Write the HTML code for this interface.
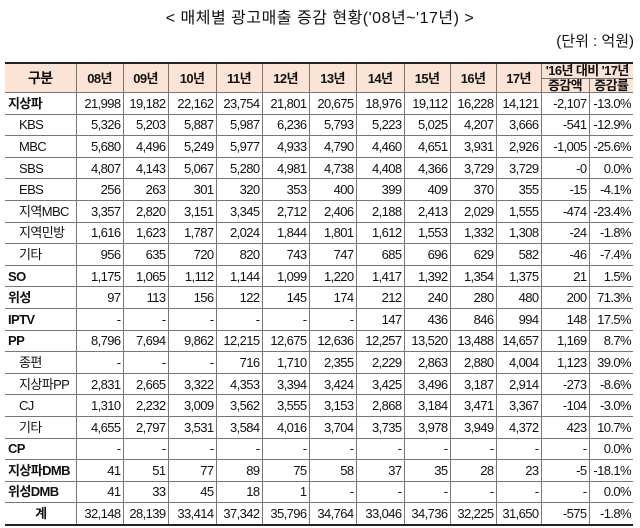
<!DOCTYPE html>
<html><head><meta charset="utf-8"><style>
body{margin:0;background:#fff;width:640px;height:528px;overflow:hidden;font-family:"Liberation Sans","Noto Sans CJK KR",sans-serif;color:#111}
.t{position:absolute;top:4px;left:0;width:640px;text-align:center;font-size:16px;letter-spacing:0.5px}
.u{position:absolute;top:30px;right:6px;font-size:15px}
table{position:absolute;left:5px;top:62px;border-collapse:collapse;table-layout:fixed;font-size:13px;letter-spacing:-0.6px}
td,th{border:1px solid #777;padding:0 2px 0 0;height:20.6px;line-height:15px;text-align:right;white-space:nowrap;overflow:hidden}
table{border-top:2px solid #222;border-bottom:2px solid #222}
th{background:#fbe4d5;text-align:center;font-weight:bold;padding:0;height:13.5px;line-height:13px;font-size:13px}
td:first-child{text-align:left;padding-left:3px;border-left:none}
th:first-child{border-left:none}
td:last-child,th.l{border-right:none}
tr.b td:first-child{font-weight:bold;padding-left:3px}
tr.s td:first-child{padding-left:14px}
tr.c td:first-child{text-align:center;font-weight:bold}
</style></head><body>
<div class="t">&lt; 매체별 광고매출 증감 현황('08년~'17년) &gt;</div>
<div class="u">(단위 : 억원)</div>
<table>
<colgroup><col style="width:71px"><col style="width:47px"><col style="width:45px"><col style="width:48px"><col style="width:46px"><col style="width:47px"><col style="width:47px"><col style="width:48px"><col style="width:46px"><col style="width:46px"><col style="width:45px"><col style="width:48px"><col style="width:44px"></colgroup>
<tr><th rowspan="2" style="font-size:14px">구분</th><th rowspan="2">08년</th><th rowspan="2">09년</th><th rowspan="2">10년</th><th rowspan="2">11년</th><th rowspan="2">12년</th><th rowspan="2">13년</th><th rowspan="2">14년</th><th rowspan="2">15년</th><th rowspan="2">16년</th><th rowspan="2">17년</th><th colspan="2" class="l">'16년 대비 '17년</th></tr>
<tr><th>증감액</th><th class="l">증감률</th></tr>
<tr class="b"><td>지상파</td><td>21,998</td><td>19,182</td><td>22,162</td><td>23,754</td><td>21,801</td><td>20,675</td><td>18,976</td><td>19,112</td><td>16,228</td><td>14,121</td><td>-2,107</td><td>-13.0%</td></tr>
<tr class="s"><td>KBS</td><td>5,326</td><td>5,203</td><td>5,887</td><td>5,987</td><td>6,236</td><td>5,793</td><td>5,223</td><td>5,025</td><td>4,207</td><td>3,666</td><td>-541</td><td>-12.9%</td></tr>
<tr class="s"><td>MBC</td><td>5,680</td><td>4,496</td><td>5,249</td><td>5,977</td><td>4,933</td><td>4,790</td><td>4,460</td><td>4,651</td><td>3,931</td><td>2,926</td><td>-1,005</td><td>-25.6%</td></tr>
<tr class="s"><td>SBS</td><td>4,807</td><td>4,143</td><td>5,067</td><td>5,280</td><td>4,981</td><td>4,738</td><td>4,408</td><td>4,366</td><td>3,729</td><td>3,729</td><td>-0</td><td>0.0%</td></tr>
<tr class="s"><td>EBS</td><td>256</td><td>263</td><td>301</td><td>320</td><td>353</td><td>400</td><td>399</td><td>409</td><td>370</td><td>355</td><td>-15</td><td>-4.1%</td></tr>
<tr class="s"><td>지역MBC</td><td>3,357</td><td>2,820</td><td>3,151</td><td>3,345</td><td>2,712</td><td>2,406</td><td>2,188</td><td>2,413</td><td>2,029</td><td>1,555</td><td>-474</td><td>-23.4%</td></tr>
<tr class="s"><td>지역민방</td><td>1,616</td><td>1,623</td><td>1,787</td><td>2,024</td><td>1,844</td><td>1,801</td><td>1,612</td><td>1,553</td><td>1,332</td><td>1,308</td><td>-24</td><td>-1.8%</td></tr>
<tr class="s"><td>기타</td><td>956</td><td>635</td><td>720</td><td>820</td><td>743</td><td>747</td><td>685</td><td>696</td><td>629</td><td>582</td><td>-46</td><td>-7.4%</td></tr>
<tr class="b"><td>SO</td><td>1,175</td><td>1,065</td><td>1,112</td><td>1,144</td><td>1,099</td><td>1,220</td><td>1,417</td><td>1,392</td><td>1,354</td><td>1,375</td><td>21</td><td>1.5%</td></tr>
<tr class="b"><td>위성</td><td>97</td><td>113</td><td>156</td><td>122</td><td>145</td><td>174</td><td>212</td><td>240</td><td>280</td><td>480</td><td>200</td><td>71.3%</td></tr>
<tr class="b"><td>IPTV</td><td>-</td><td>-</td><td>-</td><td>-</td><td>-</td><td>-</td><td>147</td><td>436</td><td>846</td><td>994</td><td>148</td><td>17.5%</td></tr>
<tr class="b"><td>PP</td><td>8,796</td><td>7,694</td><td>9,862</td><td>12,215</td><td>12,675</td><td>12,636</td><td>12,257</td><td>13,520</td><td>13,488</td><td>14,657</td><td>1,169</td><td>8.7%</td></tr>
<tr class="s"><td>종편</td><td>-</td><td>-</td><td>-</td><td>716</td><td>1,710</td><td>2,355</td><td>2,229</td><td>2,863</td><td>2,880</td><td>4,004</td><td>1,123</td><td>39.0%</td></tr>
<tr class="s"><td>지상파PP</td><td>2,831</td><td>2,665</td><td>3,322</td><td>4,353</td><td>3,394</td><td>3,424</td><td>3,425</td><td>3,496</td><td>3,187</td><td>2,914</td><td>-273</td><td>-8.6%</td></tr>
<tr class="s"><td>CJ</td><td>1,310</td><td>2,232</td><td>3,009</td><td>3,562</td><td>3,555</td><td>3,153</td><td>2,868</td><td>3,184</td><td>3,471</td><td>3,367</td><td>-104</td><td>-3.0%</td></tr>
<tr class="s"><td>기타</td><td>4,655</td><td>2,797</td><td>3,531</td><td>3,584</td><td>4,016</td><td>3,704</td><td>3,735</td><td>3,978</td><td>3,949</td><td>4,372</td><td>423</td><td>10.7%</td></tr>
<tr class="b"><td>CP</td><td>-</td><td>-</td><td>-</td><td>-</td><td>-</td><td>-</td><td>-</td><td>-</td><td>-</td><td>-</td><td>-</td><td>0.0%</td></tr>
<tr class="b"><td>지상파DMB</td><td>41</td><td>51</td><td>77</td><td>89</td><td>75</td><td>58</td><td>37</td><td>35</td><td>28</td><td>23</td><td>-5</td><td>-18.1%</td></tr>
<tr class="b"><td>위성DMB</td><td>41</td><td>33</td><td>45</td><td>18</td><td>1</td><td>-</td><td>-</td><td>-</td><td>-</td><td>-</td><td>-</td><td>0.0%</td></tr>
<tr class="c"><td>계</td><td>32,148</td><td>28,139</td><td>33,414</td><td>37,342</td><td>35,796</td><td>34,764</td><td>33,046</td><td>34,736</td><td>32,225</td><td>31,650</td><td>-575</td><td>-1.8%</td></tr>
</table>
</body></html>
